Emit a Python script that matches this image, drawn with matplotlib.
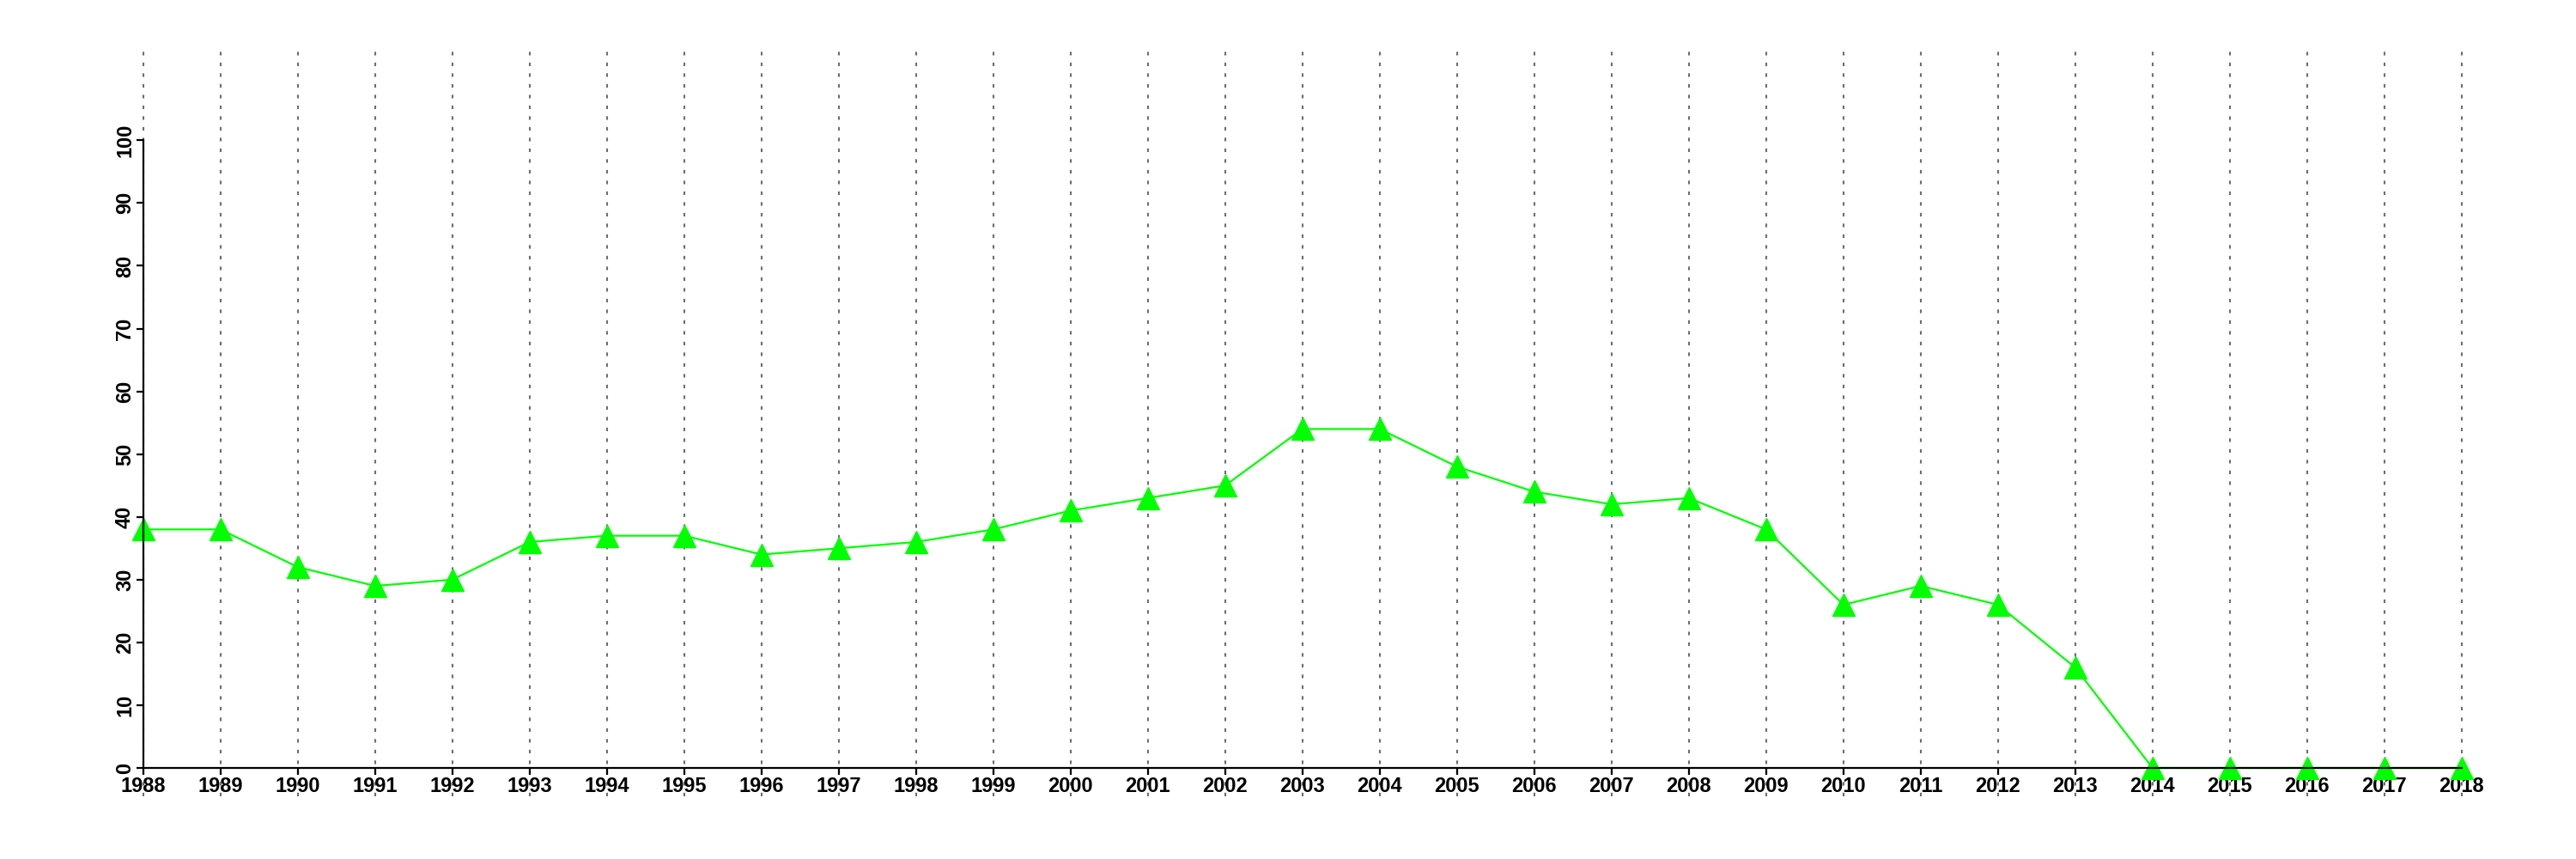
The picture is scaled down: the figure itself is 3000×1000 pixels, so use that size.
import matplotlib
matplotlib.use('Agg')
import matplotlib.pyplot as plt


# data
years = list(range(1988, 2019))
values = [38, 38, 32, 29, 30, 36, 37, 37, 34, 35, 36, 38, 41, 43, 45,
          54, 54, 48, 44, 42, 43, 38, 26, 29, 26, 16, 0, 0, 0, 0, 0]
yticks = list(range(0, 101, 10))


plt.rcParams['font.family'] = ['Liberation Sans', 'DejaVu Sans']

fig = plt.figure(figsize=(30, 10), dpi=100)
ax = fig.add_axes([0.0556, 0.106, 0.90, 0.7307])

# vertical dotted lines, running past the plot box like the original
for yr in years:
    ax.axvline(yr, ymin=-0.045, ymax=1.143, color='#6e6e6e',
               linestyle=(0, (2, 4)), linewidth=1.5, clip_on=False, zorder=1)

ax.plot(years, values, color='#00ff00', linewidth=1.6,
        marker='^', markersize=19, clip_on=False, zorder=3)

ax.set_xlim(1988, 2018)
ax.set_ylim(0, 100)

for s in ['top', 'right']:
    ax.spines[s].set_visible(False)
for s in ['left', 'bottom']:
    ax.spines[s].set_linewidth(1.6)
    ax.spines[s].set_zorder(4)

ax.set_xticks(years)
ax.set_xticklabels([str(y) for y in years], fontsize=17, fontweight='bold')
ax.set_yticks(yticks)
ax.set_yticklabels([str(v) for v in yticks], fontsize=17, fontweight='bold',
                   rotation=90, va='center')

ax.tick_params(axis='both', length=6, width=1.6, pad=1)

plt.savefig('out.png', dpi=100)
